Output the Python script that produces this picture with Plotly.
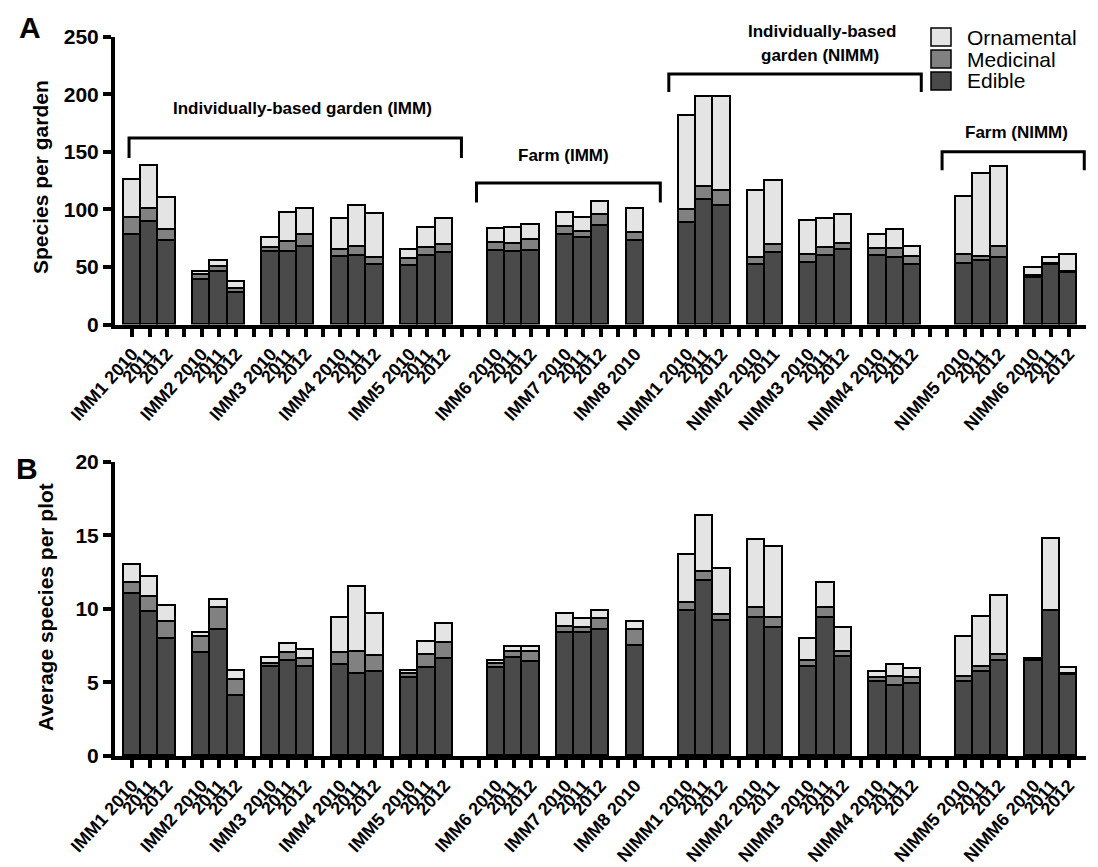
import plotly.graph_objects as go

# ---- data -------------------------------------------------------------
sites = ["IMM1", "IMM2", "IMM3", "IMM4", "IMM5", "IMM6", "IMM7", "IMM8",
         "NIMM1", "NIMM2", "NIMM3", "NIMM4", "NIMM5", "NIMM6"]
site_years = [["2010", "2011", "2012"]] * 7 + [["2010"]] + \
             [["2010", "2011", "2012"], ["2010", "2011"]] + [["2010", "2011", "2012"]] * 4
# empty category slots placed before each site group
gaps_before = [0, 1, 1, 1, 1, 2, 1, 1, 2, 1, 1, 1, 2, 1]

# A: species per garden
a_edible = [78, 89, 73, 39, 46, 28, 63, 63, 68, 59, 60, 52, 51, 60, 62,
            64, 63, 64, 78, 75, 86, 73,
            88, 108, 103, 52, 62, 54, 60, 65, 60, 58, 52, 53, 55, 58, 41, 52, 45]
a_medicinal = [15, 12, 9, 4, 4, 3, 4, 9, 10, 6, 8, 6, 6, 7, 7,
               7, 7, 10, 7, 6, 9, 7,
               12, 12, 13, 6, 7, 7, 7, 5, 6, 8, 7, 8, 4, 10, 1, 1, 1]
a_ornamental = [33, 37, 28, 3, 5, 6, 8, 25, 23, 27, 35, 38, 8, 17, 23,
                12, 14, 13, 12, 12, 12, 21,
                81, 78, 82, 58, 56, 29, 25, 25, 12, 16, 9, 50, 72, 69, 7, 5, 15]

# B: average species per plot
b_edible = [11.0, 9.8, 8.0, 7.0, 8.6, 4.1, 6.1, 6.5, 6.1, 6.2, 5.6, 5.7, 5.3, 6.0, 6.6,
            6.0, 6.65, 6.4, 8.4, 8.35, 8.6, 7.5,
            9.9, 11.9, 9.2, 9.4, 8.7, 6.1, 9.4, 6.75, 5.05, 4.8, 4.9, 5.05, 5.7, 6.45,
            6.45, 9.9, 5.5]
b_medicinal = [0.8, 1.0, 1.1, 1.1, 1.5, 1.1, 0.2, 0.5, 0.5, 0.8, 1.5, 1.1, 0.3, 0.9, 1.1,
               0.25, 0.45, 0.7, 0.4, 0.4, 0.7, 1.1,
               0.5, 0.6, 0.4, 0.7, 0.7, 0.4, 0.7, 0.35, 0.25, 0.6, 0.4, 0.35, 0.4, 0.45,
               0.05, 0.0, 0.1]
b_ornamental = [1.2, 1.4, 1.1, 0.25, 0.5, 0.6, 0.4, 0.6, 0.6, 2.4, 4.4, 2.9, 0.2, 0.9, 1.3,
                0.25, 0.3, 0.3, 0.9, 0.55, 0.6, 0.5,
                3.3, 3.8, 3.1, 4.6, 4.8, 1.5, 1.7, 1.65, 0.4, 0.8, 0.6, 2.7, 3.4, 4.0,
                0.1, 4.9, 0.4]

categories = ["Edible", "Medicinal", "Ornamental"]
colors = {"Edible": "#4a4a4a", "Medicinal": "#818181", "Ornamental": "#e4e4e4"}

# ---- category slot positions -----------------------------------------
bar_x, tick_vals, tick_text = [], [], []
slot = 0
for site, years, gap in zip(sites, site_years, gaps_before):
    for _ in range(gap):
        tick_vals.append(slot)
        tick_text.append("")
        slot += 1
    for i, yr in enumerate(years):
        bar_x.append(slot)
        tick_vals.append(slot)
        tick_text.append(f"{site} {yr}" if i == 0 else yr)
        slot += 1
n_slots = slot

W, H = 1098, 867
def px(x):
    return x / W
def py(y):
    return 1 - y / H

FONT = "Liberation Sans"

fig = go.Figure()
panels = [
    ("x", "y", [a_edible, a_medicinal, a_ornamental]),
    ("x2", "y2", [b_edible, b_medicinal, b_ornamental]),
]
for xa, ya, series in panels:
    for name, vals in zip(categories, series):
        fig.add_trace(go.Bar(
            x=bar_x, y=vals, name=name, xaxis=xa, yaxis=ya, width=1.0,
            marker=dict(color=colors[name], line=dict(color="black", width=1.6)),
            showlegend=False, hoverinfo="skip",
        ))

x_dom = [px(115), px(1086)]
xaxis_common = dict(
    range=[-1, n_slots], tickmode="array", tickvals=tick_vals, ticktext=tick_text,
    tickangle=-48, ticks="outside", ticklen=8, tickwidth=4, tickcolor="black",
    showline=True, linewidth=4, linecolor="black", showgrid=False, zeroline=False,
    tickfont=dict(family=FONT, size=18, color="black", weight="bold"),
    domain=x_dom, fixedrange=True, automargin=False,
)
yaxis_common = dict(
    ticks="outside", ticklen=8, tickwidth=4, tickcolor="black",
    showline=True, linewidth=4, linecolor="black", showgrid=False, zeroline=False,
    tickfont=dict(family=FONT, size=21, color="black", weight="bold"),
    fixedrange=True, automargin=False,
)

fig.update_layout(
    width=W, height=H, margin=dict(l=0, r=0, t=0, b=0, autoexpand=False),
    paper_bgcolor="white", plot_bgcolor="white",
    barmode="stack", bargap=0,
    xaxis=dict(**xaxis_common, anchor="y"),
    xaxis2=dict(**xaxis_common, anchor="y2"),
    yaxis=dict(**yaxis_common, anchor="x", range=[0, 250], tickvals=[0, 50, 100, 150, 200, 250],
               domain=[py(324.5), py(36.7)]),
    yaxis2=dict(**yaxis_common, anchor="x2", range=[0, 20], tickvals=[0, 5, 10, 15, 20],
                domain=[py(756), py(461.7)]),
)

# brackets grouping the gardens and farms (panel A)
brackets = [
    (-0.19, 18.98, 162, 144.6),
    (19.85, 30.45, 123, 106),
    (30.94, 45.5, 217.6, 202),
    (46.7, 54.9, 150, 134),
]
for x0, x1, ytop, ybot in brackets:
    fig.add_shape(type="path", xref="x", yref="y",
                  path=f"M {x0},{ybot} L {x0},{ytop} L {x1},{ytop} L {x1},{ybot}",
                  line=dict(color="black", width=3))

annotations = []
def label(text, x, y, size=17, bold=True, xanchor="center", angle=0):
    annotations.append(dict(
        text=text, x=px(x), y=py(y), xref="paper", yref="paper",
        xanchor=xanchor, yanchor="middle", showarrow=False, textangle=angle,
        font=dict(family=FONT, size=size, color="black", weight="bold" if bold else "normal"),
    ))

label("Individually-based garden (IMM)", 303, 108)
label("Farm (IMM)", 563, 155)
label("Individually-based", 822, 31)
label("garden (NIMM)", 820, 55)
label("Farm (NIMM)", 1016, 132)

label("A", 30, 27, size=30)
label("B", 27, 468, size=30)
label("Species per garden", 40, 177, size=21, angle=-90)
label("Average species per plot", 45, 607, size=21, angle=-90)

# legend
legend_rows = [("Ornamental", 37), ("Medicinal", 59), ("Edible", 81)]
for name, yc in legend_rows:
    fig.add_shape(type="rect", xref="paper", yref="paper",
                  x0=px(931), x1=px(951), y0=py(yc - 9), y1=py(yc + 9),
                  fillcolor=colors[name], line=dict(color="black", width=1.5))
    label(name, 965, yc, size=21, bold=False, xanchor="left")

fig.update_layout(annotations=annotations)
fig.write_html("out.html")
